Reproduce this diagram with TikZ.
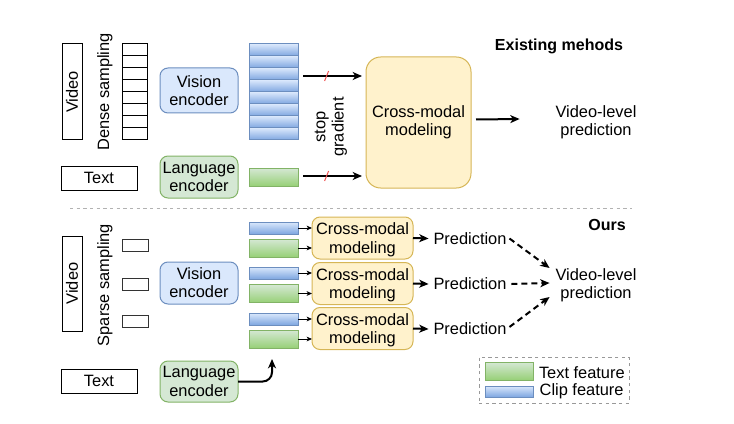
\documentclass[tikz,border=0pt]{standalone}
\usepackage{fontspec}
\setmainfont{Liberation Sans}
\usetikzlibrary{arrows.meta}
\usetikzlibrary{positioning}

\definecolor{vencfill}{HTML}{DAE8FC}
\definecolor{vencline}{HTML}{6C8EBF}
\definecolor{clipdark}{HTML}{7EA6E0}
\definecolor{lencfill}{HTML}{D5E8D4}
\definecolor{lencline}{HTML}{82B366}
\definecolor{textdark}{HTML}{97D077}
\definecolor{cmfill}{HTML}{FFF2CC}
\definecolor{cmline}{HTML}{D6B656}
\definecolor{cutred}{HTML}{F05050}

\tikzset{
  framebox/.style={draw, line width=0.75pt},
  visenc/.style={draw=vencline, fill=vencfill, line width=0.75pt, rounded corners=6pt,
    minimum width=58.5pt, align=center},
  langenc/.style={draw=lencline, fill=lencfill, line width=0.75pt, rounded corners=6pt,
    minimum width=58.5pt, align=center},
  cliprow/.style={draw=vencline, top color=vencfill, bottom color=clipdark, line width=0.75pt},
  textrow/.style={draw=lencline, top color=lencfill, bottom color=textdark, line width=0.75pt},
  crossbox/.style={draw=cmline, fill=cmfill, line width=0.75pt, align=center},
  bigarrow/.style={-{Stealth[length=7pt,width=6pt,inset=2pt]}, line width=1.5pt},
  dasharrow/.style={bigarrow, dash pattern=on 4.5pt off 3pt},
  smallarrow/.style={-{Stealth[length=4pt,width=3.5pt,inset=1pt]}, line width=0.75pt},
  stopcut/.style={draw=cutred, line width=0.75pt},
  heading/.style={font=\fontsize{12}{13.5}\selectfont\bfseries}
}

\begin{document}
\begin{tikzpicture}[x=0.75pt, y=-0.75pt,
  font=\fontsize{12.3}{13.7}\selectfont,
  every node/.style={inner sep=0pt, outer sep=0pt}]
\useasboundingbox (0,0) rectangle (734,424);

% existing methods
\node[framebox, rotate=90, minimum width=72pt, minimum height=15pt] (vid1) at (72,92) {Video};
\node[rotate=90] (dense) at (105,92) {Dense sampling};
\foreach \i in {1,...,8}
  \node[framebox, minimum width=18.75pt, minimum height=9pt] (d\i) at (134.5,38+12*\i) {};
\node[visenc, minimum height=33.75pt] (venc1) at (199,90.5) {Vision\\encoder};
\foreach \i in {1,...,8}
  \node[cliprow, minimum width=36.75pt, minimum height=9pt] (c\i) at (273.5,38+12*\i) {};

\node[framebox, minimum width=57pt, minimum height=18pt] (text1) at (99,178) {Text};
\node[langenc, minimum height=31.5pt] (lenc1) at (199,177) {Language\\encoder};
\node[textrow, minimum width=36.75pt, minimum height=13.5pt] (t1) at (273.5,177) {};

\node[crossbox, rounded corners=11pt, minimum width=78.75pt, minimum height=98.25pt] (cmm) at (418.5,122.5) {Cross-modal\\modeling};
\node[rotate=90, align=center] (stopgrad) at (331,127) {stop\\gradient};
\node[align=center] (vlp1) at (596,122) {Video-level\\prediction};
\node[heading] (exist) at (559,46) {Existing mehods};

\draw[bigarrow] ([shift={(5,2)}]c3.east) -- coordinate[pos=0.4] (cut1) ([shift={(-4,2)}]c3.east -| cmm.west);
\draw[bigarrow] ([shift={(5,-1)}]t1.east) -- coordinate[pos=0.4] (cut2) ([shift={(-4,-1)}]t1.east -| cmm.west);
\draw[stopcut] ([shift={(-2,5)}]cut1) -- ([shift={(2,-5)}]cut1);
\draw[stopcut] ([shift={(-2,5)}]cut2) -- ([shift={(2,-5)}]cut2);
\draw[bigarrow] ([shift={(5,-3)}]cmm.east) -- ([shift={(-36,-3)}]vlp1.west);

% separator
\coordinate (sepL) at (70,208);
\coordinate (sepR) at (632,208);
\draw[gray!60, line width=0.75pt, dash pattern=on 2.5pt off 2.5pt] (sepL) -- (sepR);

% ours
\node[framebox, rotate=90, minimum width=71.25pt, minimum height=15pt] (vid2) at (72,283.5) {Video};
\node[rotate=90] (sparse) at (105,285) {Sparse sampling};
\foreach \i/\y in {1/245,2/284,3/321}
  \node[framebox, draw=black!80, minimum width=19.5pt, minimum height=9pt] (s\i) at (135,\y) {};
\node[visenc, minimum height=31.5pt] (venc2) at (199,283) {Vision\\encoder};
\node[framebox, minimum width=57pt, minimum height=18pt] (text2) at (99,381) {Text};
\node[langenc, minimum height=30.75pt] (lenc2) at (199,381.5) {Language\\encoder};

\foreach \i/\yb/\yg/\yc in {1/228/248/238,2/273/293.5/283.5,3/319/339/328.5} {
  \node[cliprow, minimum width=36.75pt, minimum height=9pt] (b\i) at (273.5,\yb) {};
  \node[textrow, minimum width=36.75pt, minimum height=13.5pt] (g\i) at (273.5,\yg) {};
  \node[crossbox, rounded corners=6pt, minimum width=75.75pt, minimum height=31.5pt, text depth=0pt] (cm\i) at (362.5,\yc) {Cross-modal\\modeling};
  \node (pred\i) at (470,\yc+0.5) {Prediction};
  \draw[smallarrow] (b\i.east) -- (b\i.east -| cm\i.west);
  \draw[smallarrow] (g\i.east) -- (g\i.east -| cm\i.west);
  \draw[bigarrow] (cm\i.east) -- ([shift={(-5,0)}]pred\i.west);
}

\node[align=center] (vlp2) at (596,285) {Video-level\\prediction};
\node[heading] (ours) at (607,225) {Ours};

\draw[dasharrow] ([shift={(3,0)}]pred1.east) -- ([shift={(-6,-17)}]vlp2.west);
\draw[dasharrow] ([shift={(5,0)}]pred2.east) -- ([shift={(-6,-2)}]vlp2.west);
\draw[dasharrow] ([shift={(3,-2)}]pred3.east) -- ([shift={(-6,12)}]vlp2.west);
\draw[bigarrow, rounded corners=7pt] (lenc2.east) -| ([shift={(-1.5,11)}]g3.south);

% legend
\node[draw=gray!80, line width=0.75pt, dash pattern=on 2.5pt off 2.5pt, minimum width=112.5pt, minimum height=34.5pt] (legend) at (554,380) {};
\node[textrow, minimum width=36pt, minimum height=13.5pt] (tsw) at (509,371) {};
\node[cliprow, minimum width=36pt, minimum height=8.25pt] (csw) at (509,391.5) {};
\node[right=4.5pt of tsw, yshift=-1pt] (tlab) {Text feature};
\node[right=5pt of csw] (clab) {Clip feature};
\end{tikzpicture}
\end{document}
